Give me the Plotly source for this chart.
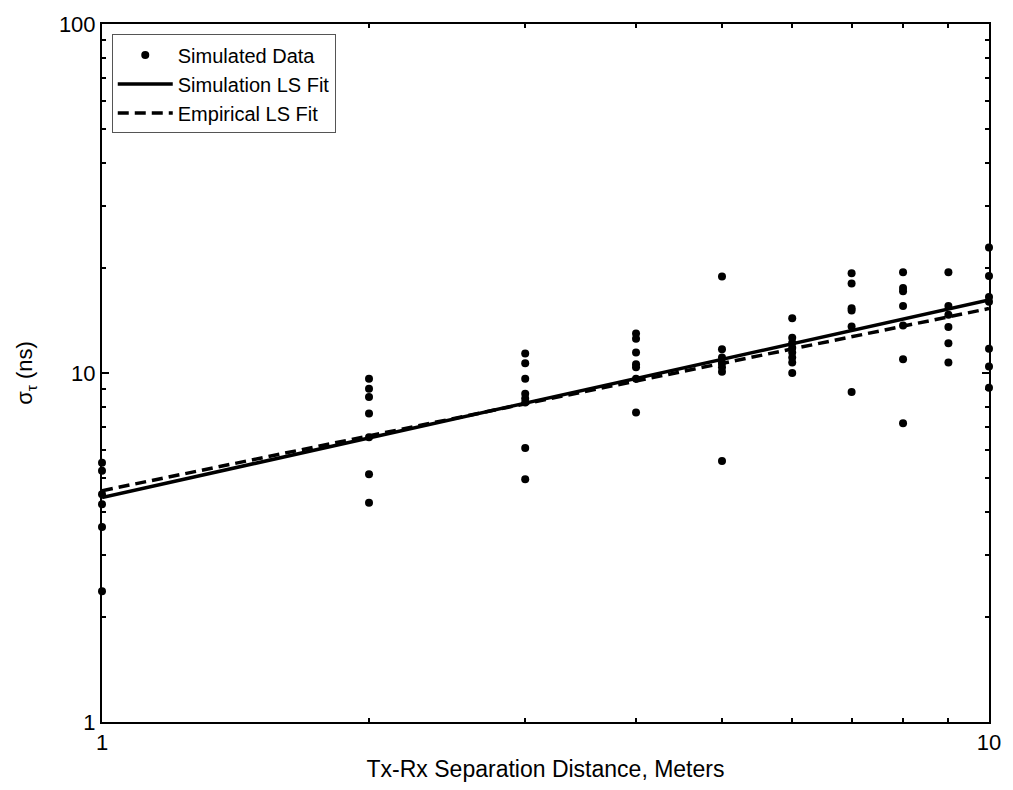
import plotly.graph_objects as go

# Simulated RMS delay spread samples, grouped by Tx-Rx separation (m)
dist_1 = [5.53, 5.25, 4.49, 4.21, 3.62, 2.37]
dist_2 = [9.62, 9.01, 8.54, 7.66, 6.54, 5.13, 4.25]
dist_3 = [11.38, 10.67, 9.62, 8.72, 8.45, 8.23, 6.1, 4.96]
dist_4 = [12.97, 12.53, 11.44, 10.6, 10.38, 9.62, 7.7]
dist_5 = [18.9, 11.7, 11.07, 10.7, 10.38, 10.08, 5.6]
dist_6 = [14.36, 12.61, 12.21, 11.82, 11.44, 11.07, 10.72, 10.0]
dist_7 = [19.3, 18.04, 15.34, 15.1, 13.6, 8.82]
dist_8 = [19.45, 17.53, 17.15, 15.56, 13.67, 10.95, 7.18]
dist_9 = [19.45, 15.56, 14.68, 13.55, 12.16, 10.72]
dist_10 = [22.9, 18.96, 16.5, 16.0, 11.74, 10.44, 9.07]

groups = [dist_1, dist_2, dist_3, dist_4, dist_5,
          dist_6, dist_7, dist_8, dist_9, dist_10]
distances = [1, 2, 3, 4, 5, 6, 7, 8, 9, 10]

# Least-squares power-law fits, evaluated at the ends of the range
fit_x = [1, 10]
sim_fit = [4.4, 16.2]
emp_fit = [4.6, 15.3]

# Axis ticks
x_major = [1, 10]
x_minor = [2, 3, 4, 5, 6, 7, 8, 9]
y_major = [1, 10, 100]
y_minor = [2, 3, 4, 5, 6, 7, 8, 9, 20, 30, 40, 50, 60, 70, 80, 90]

xs, ys = [], []
for d, vals in zip(distances, groups):
    xs += [d] * len(vals)
    ys += vals

fig = go.Figure()
fig.add_trace(go.Scatter(
    x=xs, y=ys, mode="markers", name="Simulated Data",
    marker=dict(color="black", size=8),
    cliponaxis=False,
))
fig.add_trace(go.Scatter(
    x=fit_x, y=sim_fit, mode="lines", name="Simulation LS Fit",
    line=dict(color="black", width=3.5),
))
fig.add_trace(go.Scatter(
    x=fit_x, y=emp_fit, mode="lines", name="Empirical LS Fit",
    line=dict(color="black", width=3.5, dash="11px,6px"),
))

font_family = "Liberation Sans, Arial, sans-serif"

axis_common = dict(
    type="log",
    showgrid=False,
    zeroline=False,
    showline=True,
    linecolor="black",
    linewidth=2,
    mirror="ticks",
    ticks="inside",
    ticklen=7,
    tickwidth=2,
    tickcolor="black",
    tickfont=dict(family=font_family, size=22, color="black"),
)

fig.update_xaxes(
    **axis_common,
    range=[0, 1],
    tickvals=x_major,
    ticktext=["1", "10"],
    minor=dict(tickvals=x_minor, ticks="inside", ticklen=4,
               tickwidth=2, tickcolor="black", showgrid=False),
    title=dict(text="Tx-Rx Separation Distance, Meters",
               font=dict(family=font_family, size=23, color="black"),
               standoff=6),
)
fig.update_yaxes(
    **axis_common,
    range=[0, 2],
    tickvals=y_major,
    ticktext=["1", "10", "100"],
    minor=dict(tickvals=y_minor, ticks="inside", ticklen=4,
               tickwidth=2, tickcolor="black", showgrid=False),
    title=dict(text="σ<sub>τ</sub> (ns)",
               font=dict(family=font_family, size=22, color="black"),
               standoff=20),
)

fig.update_layout(
    width=1013,
    height=790,
    margin=dict(l=102, r=16, t=20, b=62),
    paper_bgcolor="white",
    plot_bgcolor="white",
    font=dict(family=font_family, color="black"),
    showlegend=True,
    legend=dict(
        x=0.011, y=0.985, xanchor="left", yanchor="top",
        bgcolor="white", bordercolor="#555", borderwidth=1,
        font=dict(family=font_family, size=20, color="black"),
        tracegroupgap=0,
        itemwidth=55,
    ),
)

fig.write_html("out.html")
